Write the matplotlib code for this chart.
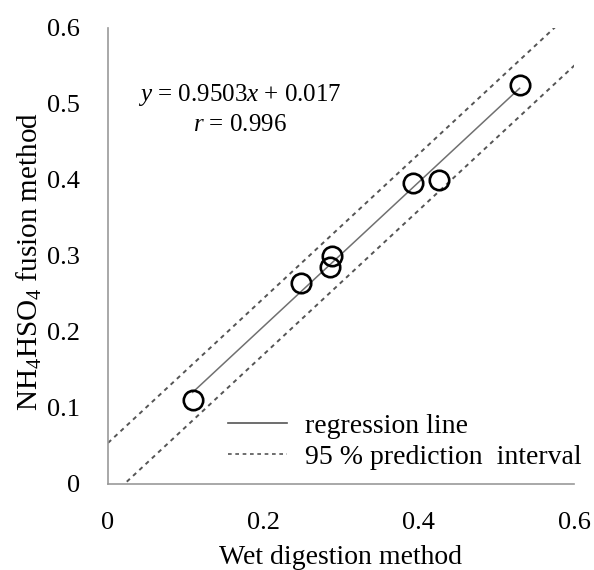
import numpy as np
import matplotlib
matplotlib.use('Agg')
import matplotlib.pyplot as plt
from matplotlib.lines import Line2D

plt.rcParams['font.family'] = ['Liberation Serif', 'DejaVu Serif']
plt.rcParams['mathtext.fontset'] = 'custom'
plt.rcParams['mathtext.rm'] = 'Liberation Serif'
plt.rcParams['mathtext.it'] = 'Liberation Serif:italic'

# measured values
wet = [0.109, 0.248, 0.289, 0.286, 0.393, 0.426, 0.530]
fusion = [0.111, 0.264, 0.300, 0.285, 0.396, 0.400, 0.525]
slope = 0.9503
intercept = 0.017
half_width = 0.037
ticks = [0, 0.1, 0.2, 0.3, 0.4, 0.5, 0.6]
tick_labels = ['0', '0.1', '0.2', '0.3', '0.4', '0.5', '0.6']
xticks = [0, 0.2, 0.4, 0.6]
xtick_labels = ['0', '0.2', '0.4', '0.6']

fig = plt.figure(figsize=(5.94, 5.70), dpi=100)
ax = fig.add_axes([0.1818, 0.1509, 0.7845, 0.8000])

# regression line over data range
xr = np.array([min(wet), max(wet)])
ax.plot(xr, slope * xr + intercept, color='#707070', lw=1.1)

# prediction interval lines
xp = np.linspace(0, 0.62, 50)
ax.plot(xp, slope * xp + intercept + half_width, color='#555555', lw=1.4, ls=(0, (2.2, 2.2)))
ax.plot(xp, slope * xp + intercept - half_width, color='#555555', lw=1.4, ls=(0, (2.2, 2.2)))

ax.plot(wet, fusion, 'o', mfc='none', mec='black', ms=14, mew=1.9, ls='none')

ax.set_xlim(0, 0.6)
ax.set_ylim(0, 0.6)
ax.set_xticks(xticks)
ax.set_xticklabels(xtick_labels)
ax.set_yticks(ticks)
ax.set_yticklabels(tick_labels)
ax.tick_params(length=0, labelsize=19, pad=20)
for s in ['top', 'right']:
    ax.spines[s].set_visible(False)
for s in ['left', 'bottom']:
    ax.spines[s].set_color('#999999')
    ax.spines[s].set_linewidth(1.2)

ax.set_xlabel('Wet digestion method', fontsize=20, labelpad=8)
ax.set_ylabel('NH$_4$HSO$_4$ fusion method', fontsize=21, labelpad=2)
ax.yaxis.label.set_y(0.487)

ax.text(0.17, 0.494, '$y$ = 0.9503$x$ + 0.017\n$r$ = 0.996', fontsize=18,
        ha='center', va='center', multialignment='center', linespacing=1.35)

handles = [Line2D([], [], color='#555555', lw=1.2),
           Line2D([], [], color='#555555', lw=1.2, ls=(0, (2.2, 2.2)))]
ax.legend(handles, ['regression line', '95 % prediction  interval'], loc='lower left',
          bbox_to_anchor=(0.215, -0.012), frameon=False, fontsize=20,
          handlelength=2.15, handletextpad=0.65, labelspacing=0.2, borderpad=0.2)

fig.savefig('out.png', dpi=100)
